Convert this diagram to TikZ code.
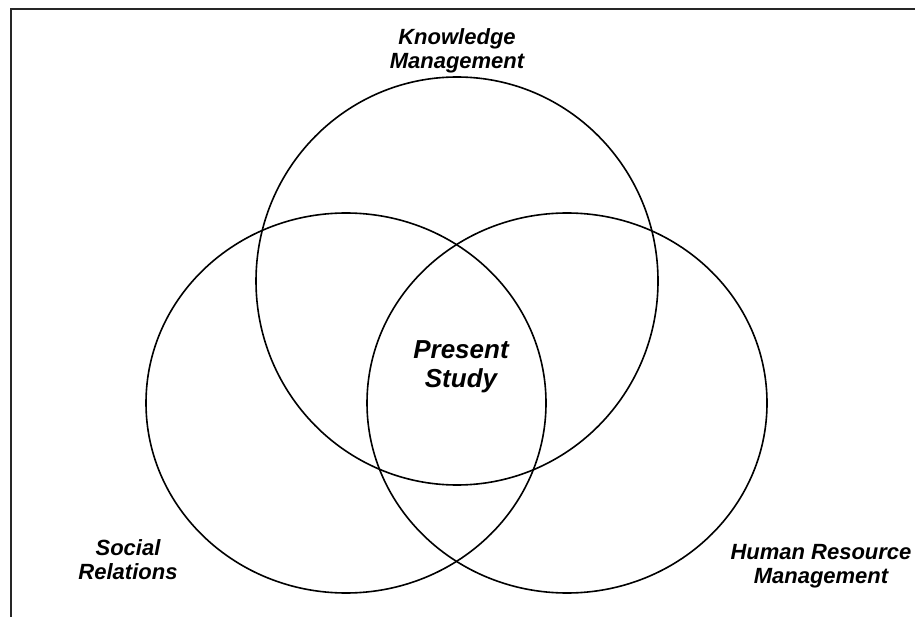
\documentclass[tikz,border=0pt]{standalone}
\usepackage{fontspec}
\setmainfont{Liberation Sans}
\begin{document}
\begin{tikzpicture}[x=1pt,y=-1pt,
  ring/.style={draw=black,line width=1.6pt},
  setlabel/.style={align=center,font=\fontsize{22}{24}\selectfont\bfseries\itshape,inner sep=1pt},
  corelabel/.style={align=center,font=\fontsize{26}{29}\selectfont\bfseries\itshape,inner sep=1pt}]
\useasboundingbox (0,0) rectangle (915,617);
% partial frame
\coordinate (fbl) at (11,617);
\coordinate (ftl) at (11,9.5);
\coordinate (ftr) at (915,9.5);
\draw[line width=2pt,black!85] (fbl) -- (ftl) -- (ftr);
% three sets
\draw[ring] (457,281) ellipse [x radius=201,y radius=204];
\draw[ring] (346,403) ellipse [x radius=200,y radius=190];
\draw[ring] (567,403) ellipse [x radius=200,y radius=190];
% labels
\node[setlabel,fill=white] (km) at (457,51) {Knowledge\\Management};
\node[corelabel] (ps) at (461,367) {Present\\Study};
\node[setlabel] (sr) at (128,560) {Social\\Relations};
\node[setlabel] (hrm) at (821,566) {Human Resource\\Management};
\end{tikzpicture}
\end{document}
